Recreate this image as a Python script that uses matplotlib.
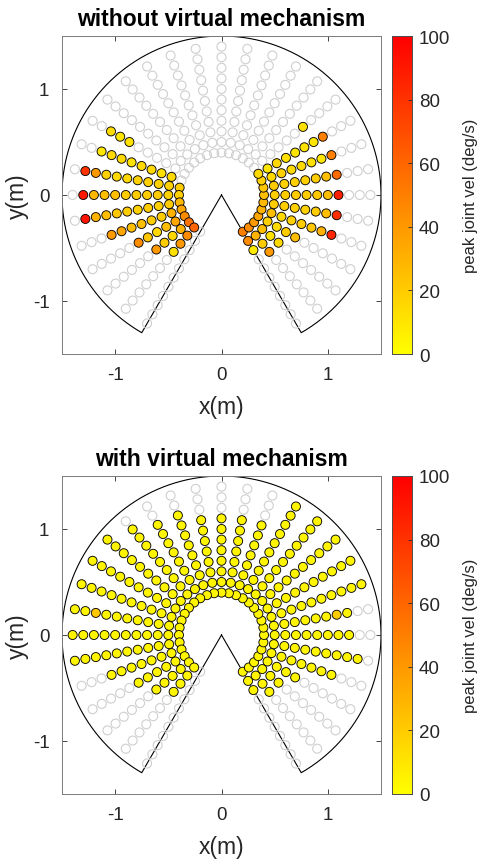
import numpy as np
import matplotlib
matplotlib.use("Agg")
import matplotlib.pyplot as plt
from matplotlib.colors import Normalize

plt.rcParams['font.family'] = ['Liberation Sans', 'DejaVu Sans']
plt.rcParams['axes.unicode_minus'] = False

# ---------------- data ----------------
titles = ["without virtual mechanism", "with virtual mechanism"]
cbar_label = "peak joint vel (deg/s)"
cbar_ticks = [0, 20, 40, 60, 80, 100]
axis_ticks = [-1, 0, 1]

ray_angles_deg = [-60, -50, -40, -30, -20, -10, 0, 10, 20, 30, 40, 50, 60, 70, 80,
                  90, 100, 110, 120, 130, 140, 150, 160, 170, 180, 190, 200, 210,
                  220, 230, 240]
radii_m = [0.4, 0.5, 0.6, 0.7, 0.8, 0.9, 1.0, 1.1, 1.2, 1.3, 1.4]

workspace_radius = 1.5
workspace_start_deg = -60
workspace_end_deg = 240

_ = None
# rows: one per ray angle, columns: radii 0.4 .. 1.4 ; None = not reached (grey)
vel_without = [
    [50, 45, 8, _, _, _, _, _, _, _, _],          # -60
    [45, 30, 20, 40, _, _, _, _, _, _, _],        # -50
    [40, 25, 12, 15, _, _, _, _, _, _, _],        # -40
    [35, 18, 15, 20, 25, _, _, _, _, _, _],       # -30
    [30, 25, 15, 18, 20, 22, 30, 85, _, _, _],    # -20
    [28, 20, 20, 18, 18, 20, 25, 82, _, _, _],    # -10
    [25, 20, 20, 20, 20, 22, 25, 88, _, _, _],    # 0
    [22, 20, 18, 18, 18, 20, 25, 58, _, _, _],    # 10
    [18, 15, 18, 15, 15, 12, 10, 50, _, _, _],    # 20
    [15, 10, 15, 12, 10, 12, 10, 50, _, _, _],    # 30
    [_, _, _, _, _, _, 12, _, _, _, _],           # 40
    [_, _, _, _, _, _, _, _, _, _, _],            # 50
    [_, _, _, _, _, _, _, _, _, _, _],            # 60
    [_, _, _, _, _, _, _, _, _, _, _],            # 70
    [_, _, _, _, _, _, _, _, _, _, _],            # 80
    [_, _, _, _, _, _, _, _, _, _, _],            # 90
    [_, _, _, _, _, _, _, _, _, _, _],            # 100
    [_, _, _, _, _, _, _, _, _, _, _],            # 110
    [_, _, _, _, _, _, _, _, _, _, _],            # 120
    [_, _, _, _, _, _, _, _, _, _, _],            # 130
    [_, _, _, _, _, _, _, _, _, _, _],            # 140
    [_, _, _, _, _, _, 12, 10, 14, _, _],         # 150
    [_, 15, 12, 15, 15, 12, 15, 15, 10, _, _],    # 160
    [20, 18, 18, 18, 18, 15, 15, 18, 40, 80, _],  # 170
    [18, 18, 20, 20, 20, 20, 25, 25, 28, 90, _],  # 180
    [28, 20, 18, 20, 18, 20, 22, 25, 30, 92, _],  # 190
    [35, 30, 20, 20, 25, 25, 35, 40, _, _, _],    # 200
    [45, 35, 25, 15, 22, 45, _, _, _, _, _],      # 210
    [55, 30, 15, 20, 40, _, _, _, _, _, _],       # 220
    [60, 45, 40, 12, _, _, _, _, _, _, _],        # 230
    [_, _, _, _, _, _, _, _, _, _, _],            # 240
]

vel_with = [
    [4, 4, 4, _, _, _, _, _, _, _, _],            # -60
    [4, 4, 4, 4, _, _, _, _, _, _, _],            # -50
    [4, 4, 4, 4, _, _, _, _, _, _, _],            # -40
    [4, 4, 4, 4, 4, _, _, _, _, _, _],            # -30
    [4, 4, 4, 4, 4, 4, 4, 4, _, _, _],            # -20
    [4, 4, 4, 4, 4, 4, 4, 4, 4, 4, _],            # -10
    [4, 4, 4, 4, 4, 4, 4, 4, 4, _, _],            # 0
    [4, 4, 4, 4, 4, 4, 4, 20, 4, _, _],           # 10
    [4, 4, 4, 4, 4, 4, 4, 4, 4, 4, 4],            # 20
    [4, 4, 4, 4, 4, 4, 4, 4, 4, 4, 4],            # 30
    [4, 4, 4, 4, 4, 4, 4, 4, 4, 4, 4],            # 40
    [4, 4, 4, 4, 4, 4, 4, 4, 4, 4, 4],            # 50
    [4, 4, 4, 4, 4, 4, 4, 4, 4, 4, 4],            # 60
    [4, 4, 4, 4, 4, 4, 4, 4, _, _, _],            # 70
    [4, 4, 4, 4, 4, 4, 4, 4, _, _, _],            # 80
    [4, 4, 4, 4, 4, 4, 4, 4, _, _, _],            # 90
    [4, 4, 4, 4, 4, 4, 4, 4, _, _, _],            # 100
    [4, 4, 4, 4, 4, 4, 4, 4, 4, _, _],            # 110
    [4, 4, 4, 4, 4, 4, 4, 4, 4, _, _],            # 120
    [4, 4, 4, 4, 4, 4, 4, 4, 4, 4, _],            # 130
    [4, 4, 4, 4, 4, 4, 4, 4, 4, 4, 4],            # 140
    [4, 4, 4, 4, 4, 4, 4, 4, 4, 4, 4],            # 150
    [4, 4, 4, 4, 4, 4, 4, 4, 4, 4, 4],            # 160
    [4, 4, 4, 4, 4, 4, 4, 4, 22, 4, 4],           # 170
    [4, 4, 4, 4, 4, 4, 4, 4, 4, 4, 4],            # 180
    [4, 4, 4, 4, 4, 4, 4, 4, 4, 4, 4],            # 190
    [4, 4, 4, 4, 4, 4, 4, 4, _, _, _],            # 200
    [4, 4, 4, 4, 4, 4, _, _, _, _, _],            # 210
    [4, 4, 4, 4, 4, _, _, _, _, _, _],            # 220
    [4, 4, 4, 4, _, _, _, _, _, _, _],            # 230
    [_, _, _, _, _, _, _, _, _, _, _],            # 240
]

# ---------------- figure ----------------
W, H = 482, 862
fig = plt.figure(figsize=(W / 100, H / 100), dpi=100)
cmap = plt.get_cmap('autumn_r')
norm = Normalize(vmin=0, vmax=100)
dark = '#262626'


def px_axes(x0, y0, x1, y1):
    return fig.add_axes([x0 / W, 1 - y1 / H, (x1 - x0) / W, (y1 - y0) / H])


panels = [
    dict(ax=(62, 37, 381, 355), cax=(392, 37, 412, 355), title_y=19, data=vel_without),
    dict(ax=(62, 477, 381, 795), cax=(392, 477, 412, 795), title_y=460, data=vel_with),
]

for p, title in zip(panels, titles):
    ax = px_axes(*p['ax'])
    table = p['data']
    gx, gy, cx, cy, cv = [], [], [], [], []
    for ang, row in zip(ray_angles_deg, table):
        t = np.deg2rad(ang)
        for r, v in zip(radii_m, row):
            gx.append(r * np.cos(t)); gy.append(r * np.sin(t))
            if v is not None:
                cx.append(r * np.cos(t)); cy.append(r * np.sin(t)); cv.append(v)
    ax.scatter(gx, gy, s=42, facecolors='none', edgecolors='#cfcfcf',
               linewidths=0.8, zorder=2)
    ax.scatter(cx, cy, c=cv, cmap=cmap, norm=norm, s=42, edgecolors='black',
               linewidths=0.6, zorder=3)

    # workspace boundary
    th = np.deg2rad(np.linspace(workspace_start_deg, workspace_end_deg, 400))
    bx = np.concatenate([[0], workspace_radius * np.cos(th), [0]])
    by = np.concatenate([[0], workspace_radius * np.sin(th), [0]])
    ax.plot(bx, by, color='black', lw=0.8, zorder=1)

    ax.set_xlim(-1.5, 1.5)
    ax.set_ylim(-1.5, 1.5)
    ax.set_xticks(axis_ticks)
    ax.set_yticks(axis_ticks)
    ax.tick_params(direction='in', length=3.5, width=0.6, colors=dark,
                   labelsize=13.5, top=True, right=True, pad=9)
    for s in ax.spines.values():
        s.set_color('#7a7a7a')
        s.set_linewidth(0.7)
    ax.set_xlabel('x(m)', fontsize=16.5, color=dark, labelpad=8)
    ax.set_ylabel('y(m)', fontsize=16.5, color=dark, labelpad=3)
    x0, y0, x1, y1 = p['ax']
    fig.text((x0 + x1) / 2 / W, 1 - p['title_y'] / H, title, ha='center', va='center',
             fontsize=16.5, fontweight='bold', color='black')

    cax = px_axes(*p['cax'])
    grad = np.linspace(0, 100, 256).reshape(-1, 1)
    cax.imshow(grad, aspect='auto', cmap=cmap, norm=norm, origin='lower',
               extent=[0, 1, 0, 100])
    cax.set_xticks([])
    cax.yaxis.tick_right()
    cax.set_yticks(cbar_ticks)
    cax.tick_params(axis='y', direction='in', length=3, width=0.6, colors=dark,
                    labelsize=13.5, pad=5)
    for s in cax.spines.values():
        s.set_color('#4d4d4d')
        s.set_linewidth(0.7)
    xc0, yc0, xc1, yc1 = p['cax']
    fig.text(470 / W, 1 - (yc0 + yc1) / 2 / H, cbar_label, rotation=90,
             ha='center', va='center', fontsize=12, color=dark)

fig.savefig('out.png', dpi=100)
